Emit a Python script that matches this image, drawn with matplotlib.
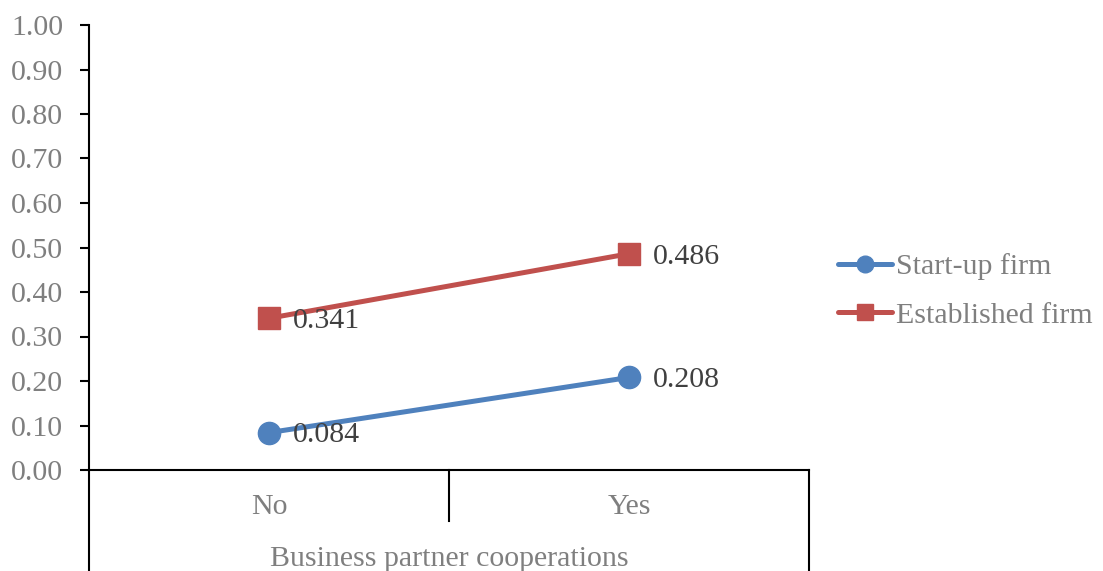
import matplotlib.pyplot as plt
import numpy as np

plt.rcParams['font.family'] = ['Liberation Serif', 'DejaVu Serif']

categories = ['No', 'Yes']
group_label = 'Business partner cooperations'
startup = [0.084, 0.208]
established = [0.341, 0.486]
yticks = np.arange(0, 1.01, 0.1)

blue = '#4F81BD'
red = '#C0504D'
gray = '#7F7F7F'
dark = '#404040'
fs = 21.5

fig = plt.figure(figsize=(11.03, 5.71), dpi=100)
ax = fig.add_axes([89 / 1103, 101 / 571, 720 / 1103, 445 / 571])

x = np.arange(len(categories))
ax.plot(x, startup, color=blue, lw=3.6, marker='o', ms=16, label='Start-up firm',
        solid_capstyle='round', zorder=3)
ax.plot(x, established, color=red, lw=3.6, marker='s', ms=16, label='Established firm',
        solid_capstyle='round', zorder=3)

# value labels to the right of each marker
for vals in [startup, established]:
    for xi, v in zip(x, vals):
        ax.annotate(f'{v:.3f}', (xi, v), xytext=(17, -2), textcoords='offset points',
                    ha='left', va='center', fontsize=fs, color=dark, zorder=4)

ax.set_xlim(-0.5, 1.5)
ax.set_ylim(0, 1)
ax.set_yticks(yticks)
ax.set_yticklabels([f'{t:.2f}' for t in yticks])
ax.tick_params(axis='y', length=6.5, width=1.5, colors='black', labelcolor=gray,
               labelsize=fs, pad=12)
ax.tick_params(axis='x', length=0, labelbottom=False)
for s in ['top', 'right']:
    ax.spines[s].set_visible(False)
ax.spines['left'].set_linewidth(1.5)
ax.spines['bottom'].set_linewidth(1.5)

# category table below the axis
xt = ax.get_xaxis_transform()
ax.plot([0.5, 0.5], [0, -51 / 445], color='black', lw=1.5, transform=xt, clip_on=False)
for xe in [-0.5, 1.5]:
    ax.plot([xe, xe], [0, -101 / 445], color='black', lw=1.5, transform=xt, clip_on=False)
for xi, c in zip(x, categories):
    ax.text(xi, -37 / 445, c, transform=xt, ha='center', va='center',
            fontsize=fs, color=gray)
ax.text(0.5, -89 / 445, group_label, transform=xt, ha='center', va='center',
        fontsize=fs, color=gray)

leg = ax.legend(loc='center left', bbox_to_anchor=((838 - 89) / 720, (470 - 291) / 445),
                frameon=False, fontsize=fs, labelcolor=gray, handlelength=1.8,
                handletextpad=0.15, labelspacing=0.72, markerscale=0.75,
                borderpad=0, borderaxespad=0)

fig.savefig('out.png', dpi=100)
